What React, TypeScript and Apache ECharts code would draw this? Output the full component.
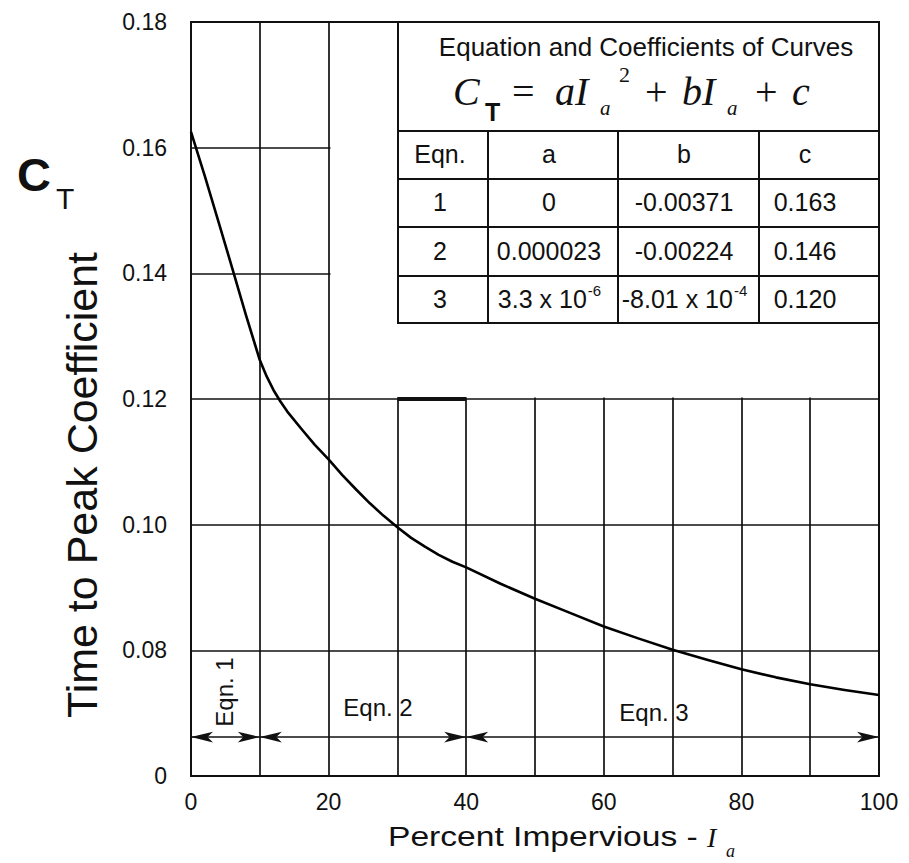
import React, { useEffect, useRef } from "react";
import * as echarts from "echarts";

// ---------- data ----------
const percentImpervious = [0, 2, 4, 6, 8, 10, 11, 12, 13, 14, 16, 18, 20, 22, 24, 26, 28, 30, 32, 34, 36, 38, 40, 45, 50, 55, 60, 65, 70, 75, 80, 85, 90, 95, 100];
const timeToPeakCoef = [0.1625, 0.1555, 0.1482, 0.1408, 0.1333, 0.1262, 0.1236, 0.1214, 0.1196, 0.118, 0.1153, 0.1127, 0.1104, 0.1079, 0.1056, 0.1034, 0.1014, 0.0996, 0.0979, 0.0965, 0.0952, 0.0941, 0.0932, 0.0906, 0.0882, 0.086, 0.0838, 0.0819, 0.0801, 0.0785, 0.077, 0.0757, 0.0746, 0.0737, 0.0729];

const xMin = 0;
const xMax = 100;
const xStep = 10;
const xLabelEvery = 20;
const yMin = 0.06; // broken axis: bottom edge is labelled "0"
const yMax = 0.18;
const yStep = 0.02;
const yBottomLabel = "0";

const eqnRanges = [[0, 10], [10, 40], [40, 100]];
const eqnLabels = ["Eqn. 1", "Eqn. 2", "Eqn. 3"];
const arrowLevel = 0.0662;
const boldSegment = [[30, 0.12], [40, 0.12]];

const tableTitle = "Equation and Coefficients of Curves";
const tableHeaders = ["Eqn.", "a", "b", "c"];
const eqnNumbers = ["1", "2", "3"];
const coefA = ["0", "0.000023", "3.3 x 10^-6"];
const coefB = ["-0.00371", "-0.00224", "-8.01 x 10^-4"];
const coefC = ["0.163", "0.146", "0.120"];

const yAxisTitle = "Time to Peak Coefficient";
const xAxisTitle = "Percent Impervious -";

// ---------- layout ----------
const SANS = "'Liberation Sans', Arial, Helvetica, sans-serif";
const SERIF = "'Liberation Serif', 'Times New Roman', serif";
const INK = "#111";
const G = { left: 191, right: 879, top: 22, bottom: 776 };

const measureCtx = (() => {
  const c = document.createElement("canvas");
  return c.getContext("2d");
})();
function textWidth(t: string, size: number, family = SANS) {
  if (!measureCtx) return t.length * size * 0.55;
  measureCtx.font = `${size}px ${family}`;
  return measureCtx.measureText(t).width;
}

function txt(text: string, x: number, y: number, size: number, extra: any = {}, styleExtra: any = {}) {
  const align = styleExtra.align || "left";
  return {
    type: "text",
    x,
    y,
    z: 20,
    silent: true,
    ...extra,
    style: {
      text,
      fontSize: size,
      fontFamily: SANS,
      fill: INK,
      align,
      textAlign: align,
      verticalAlign: "middle",
      textVerticalAlign: "middle",
      ...styleExtra,
    },
  };
}

function line(x1: number, y1: number, x2: number, y2: number, w = 2) {
  return {
    type: "line",
    z: 15,
    silent: true,
    shape: { x1, y1, x2, y2 },
    style: { stroke: INK, lineWidth: w },
  };
}

function cellText(s: string, cx: number, cy: number, size: number) {
  const out: any[] = [];
  if (s.includes("^")) {
    const [base, exp] = s.split("^");
    const supSize = 15;
    const wb = textWidth(base, size);
    const we = textWidth(exp, supSize);
    const left = cx - (wb + we) / 2;
    out.push(txt(base, left, cy, size));
    out.push(txt(exp, left + wb + 1, cy - 9, supSize));
  } else {
    out.push(txt(s, cx, cy, size, {}, { align: "center" }));
  }
  return out;
}

function buildGraphics() {
  const els: any[] = [];
  // blank area above 0.12 to the right of 20 %
  els.push({
    type: "rect",
    z: 1,
    silent: true,
    shape: { x: 330.5, y: 23.5, width: 547, height: 374 },
    style: { fill: "#fff" },
  });
  // table frame
  const tL = 398, tR = 879, tT = 22;
  const rows = [131, 179, 227, 276, 323];
  const cols = [488, 618, 759];
  els.push({
    type: "rect",
    z: 14,
    silent: true,
    shape: { x: tL, y: tT, width: tR - tL, height: rows[4] - tT },
    style: { fill: "#fff", stroke: INK, lineWidth: 2 },
  });
  for (let i = 0; i < 4; i++) els.push(line(tL, rows[i], tR, rows[i]));
  cols.forEach((c) => els.push(line(c, rows[0], c, rows[4])));

  // title + formula
  els.push(txt(tableTitle, 646, 47, 26, {}, { align: "center" }));
  const fy = 91.5;
  const it = { fontFamily: SERIF, fontStyle: "italic" };
  const up = { fontFamily: SERIF };
  els.push(txt("C", 453, fy, 40, {}, it));
  els.push(txt("T", 485, 112, 25, {}, { fontWeight: "bold" }));
  els.push(txt("=", 512, fy, 40, {}, up));
  els.push(txt("aI", 555, fy, 40, {}, it));
  els.push(txt("a", 600, 108, 21, {}, it));
  els.push(txt("2", 619, 74, 22, {}, up));
  els.push(txt("+", 645, fy, 40, {}, up));
  els.push(txt("bI", 682, fy, 40, {}, it));
  els.push(txt("a", 727, 108, 21, {}, it));
  els.push(txt("+", 755, fy, 40, {}, up));
  els.push(txt("c", 792, fy, 40, {}, it));

  // table body
  const colCenters = [440, 549, 684, 805];
  const rowCenters = [154, 202, 250.5, 299];
  tableHeaders.forEach((h, i) => els.push(...cellText(h, colCenters[i], rowCenters[0], 25)));
  eqnNumbers.forEach((n, r) => {
    const vals = [n, coefA[r], coefB[r], coefC[r]];
    vals.forEach((v, c) => els.push(...cellText(v, colCenters[c], rowCenters[r + 1], 25)));
  });

  // equation range labels
  els.push(txt(eqnLabels[0], 224, 692, 24, { rotation: Math.PI / 2 }, { align: "center" }));
  els.push(txt(eqnLabels[1], 378, 707, 24, {}, { align: "center" }));
  els.push(txt(eqnLabels[2], 654, 712, 24, {}, { align: "center" }));

  // C_T symbol
  els.push(txt("C", 17, 174, 47, {}, { fontWeight: "bold" }));
  els.push(txt("T", 56, 198, 30));

  // axis titles
  els.push(txt(yAxisTitle, 82, 485, 43, { rotation: Math.PI / 2 }, { align: "center" }));
  els.push(txt(xAxisTitle, 388, 836, 28, { scaleX: 1.2 }));
  els.push(txt("I", 707, 837, 28, {}, it));
  els.push(txt("a", 726, 851, 18, {}, it));
  return els;
}

export default function App() {
  const ref = useRef<HTMLDivElement>(null);
  useEffect(() => {
    document.body.style.margin = "0";
    const chart = echarts.init(ref.current!, null, { renderer: "svg" });
    const seriesData = percentImpervious.map((x, i) => [x, timeToPeakCoef[i]]);
    const markData: any[] = eqnRanges.map(([a, b]) => [
      { coord: [a, arrowLevel] },
      { coord: [b, arrowLevel] },
    ]);
    markData.push([
      { coord: boldSegment[0], symbol: "none", lineStyle: { width: 4, color: INK } },
      { coord: boldSegment[1], symbol: "none" },
    ]);
    const option: any = {
      animation: false,
      backgroundColor: "#fff",
      grid: {
        left: G.left,
        top: G.top,
        right: 909 - G.right,
        bottom: 863 - G.bottom,
        show: true,
        borderColor: INK,
        borderWidth: 2,
        backgroundColor: "transparent",
      },
      xAxis: {
        type: "value",
        min: xMin,
        max: xMax,
        interval: xStep,
        axisLine: { show: false },
        axisTick: { show: false },
        splitLine: { show: true, lineStyle: { color: INK, width: 1.7 } },
        axisLabel: {
          margin: 14,
          fontSize: 23,
          fontFamily: SANS,
          color: INK,
          formatter: (v: number) => (Math.round(v) % xLabelEvery === 0 ? String(Math.round(v)) : ""),
        },
      },
      yAxis: {
        type: "value",
        min: yMin,
        max: yMax,
        interval: yStep,
        axisLine: { show: false },
        axisTick: { show: false },
        splitLine: { show: true, lineStyle: { color: INK, width: 1.7 } },
        axisLabel: {
          margin: 24,
          fontSize: 23,
          fontFamily: SANS,
          color: INK,
          formatter: (v: number) => (Math.abs(v - yMin) < 1e-9 ? yBottomLabel : v.toFixed(2)),
        },
      },
      series: [
        {
          type: "line",
          data: seriesData,
          showSymbol: false,
          smooth: false,
          z: 5,
          lineStyle: { color: "#000", width: 2.6, join: "round" },
          markLine: {
            silent: true,
            animation: false,
            symbol: ["arrow", "arrow"],
            symbolSize: [8, 22],
            label: { show: false },
            lineStyle: { color: INK, width: 1.7, type: "solid" },
            data: markData,
          },
        },
      ],
      graphic: { elements: buildGraphics() },
    };
    chart.setOption(option);
    return () => chart.dispose();
  }, []);
  return <div ref={ref} style={{ width: 909, height: 863, background: "#fff" }} />;
}
